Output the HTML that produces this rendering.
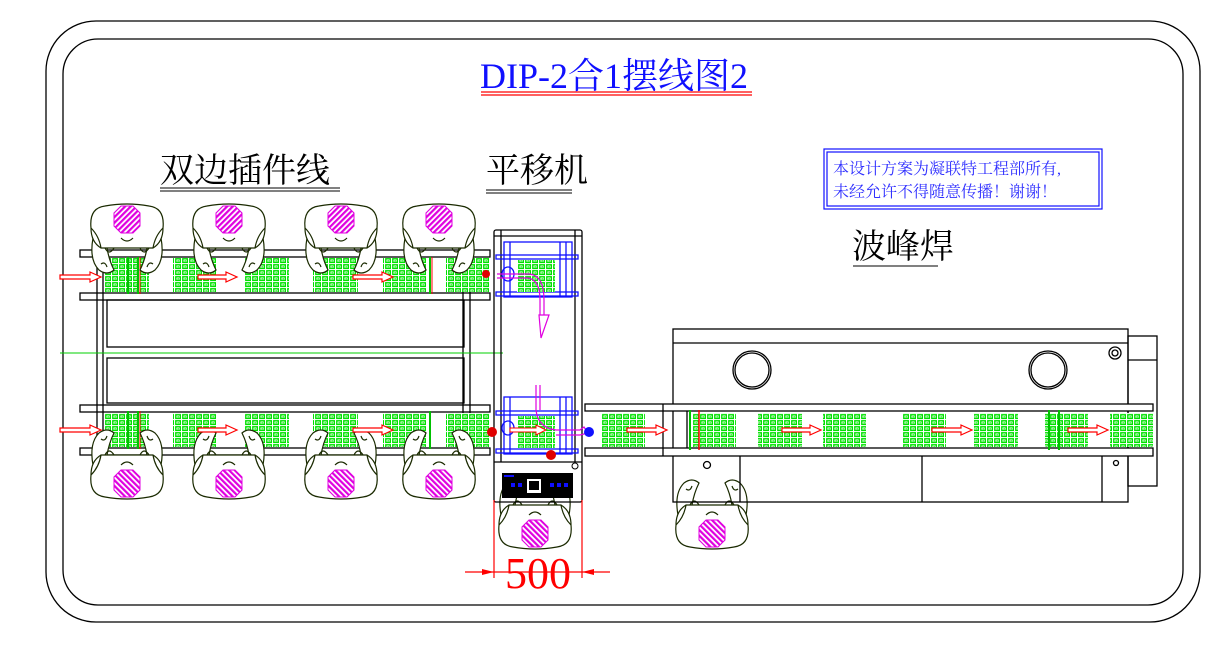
<!DOCTYPE html>
<html><head><meta charset="utf-8"><style>
html,body{margin:0;padding:0;background:#fff;}
svg{display:block;}
text{font-family:"Liberation Serif","Noto Serif CJK SC","Noto Sans CJK SC",serif;}
</style></head><body>
<svg width="1230" height="660" viewBox="0 0 1230 660" xmlns="http://www.w3.org/2000/svg">
<defs>
<pattern id="gp" width="7" height="6" patternUnits="userSpaceOnUse">
<rect width="7" height="6" fill="#fff"/>
<rect x="0.8" y="0.8" width="4.5" height="3.6" fill="none" stroke="#00e000" stroke-width="1.4"/>
<rect x="2.5" y="2.2" width="1.3" height="1.2" fill="#00e000"/>
</pattern>
<pattern id="mp" width="4" height="4" patternUnits="userSpaceOnUse" patternTransform="rotate(45)">
<rect width="4" height="4" fill="#fff"/>
<rect width="2.2" height="4" fill="#e000e0"/>
</pattern>
<g id="person" fill="none" stroke="#1a2a00" stroke-width="1.2">
<path d="M-34,18 Q-38,40 -28,50 Q-20,56 -13,50 Q-18,40 -20,28" fill="#fff"/>
<path d="M34,18 Q38,40 28,50 Q20,56 13,50 Q18,40 20,28" fill="#fff"/>
<path d="M-36,8 Q-38,-12 -22,-14 Q0,-18 22,-14 Q38,-12 36,8 Q36,22 26,28 L-26,28 Q-36,22 -36,8Z" fill="#fff"/>
<path d="M-22,28 q4,8 9,0 M13,28 q4,8 9,0 M-6,18 q6,6 12,0 M-36,8 Q-28,16 -26,28 M36,8 Q28,16 26,28"/>
<path d="M-26,44 q4,-3 6,3 M26,44 q-4,-3 -6,3"/>
<polygon points="-6,-14 6,-14 13,-7 13,6 6,13 -6,13 -13,6 -13,-7" fill="url(#mp)" stroke="#e000e0" stroke-width="1"/>
</g>
</defs>

<rect x="46" y="21" width="1154" height="601" rx="50" fill="none" stroke="#000" stroke-width="1.3"/>
<rect x="63" y="39" width="1120" height="566" rx="35" fill="none" stroke="#000" stroke-width="1.3"/>

<text x="480" y="88" font-size="36" fill="#1010ff">DIP-2合1摆线图2</text>
<line x1="481" y1="92" x2="752" y2="92" stroke="#f00" stroke-width="1.2"/>
<line x1="481" y1="95" x2="752" y2="95" stroke="#f00" stroke-width="1.2"/>

<text x="160" y="182" font-size="34" fill="#000">双边插件线</text>
<line x1="160" y1="188" x2="340" y2="188" stroke="#000"/><line x1="160" y1="191" x2="340" y2="191" stroke="#000"/>
<text x="486" y="182" font-size="34" fill="#000">平移机</text>
<line x1="486" y1="190" x2="572" y2="190" stroke="#000"/><line x1="486" y1="193" x2="572" y2="193" stroke="#000"/>
<text x="852" y="258" font-size="34" fill="#000">波峰焊</text>
<line x1="853" y1="266" x2="938" y2="266" stroke="#000"/>

<rect x="824" y="149" width="278" height="60" fill="none" stroke="#1010ff" stroke-width="1.2"/>
<rect x="827" y="152" width="272" height="54" fill="none" stroke="#1010ff" stroke-width="1.2"/>
<text x="833" y="174" font-size="16" fill="#3030ff" font-family="Noto Sans CJK SC,sans-serif">本设计方案为凝联特工程部所有,</text>
<text x="833" y="197" font-size="16" fill="#3030ff" font-family="Noto Sans CJK SC,sans-serif">未经允许不得随意传播！谢谢！</text>

<g fill="none" stroke="#000" stroke-width="1.3">
<rect x="80" y="250" width="410" height="7"/>
<rect x="80" y="293" width="410" height="7"/>
<rect x="80" y="405" width="410" height="7"/>
<rect x="80" y="448" width="410" height="7"/>
<rect x="107" y="300" width="357" height="47"/>
<rect x="107" y="358" width="357" height="45"/>
<line x1="97" y1="250" x2="97" y2="455"/><line x1="103" y1="250" x2="103" y2="455"/>
<line x1="463" y1="250" x2="463" y2="455"/><line x1="470" y1="250" x2="470" y2="455"/>
</g>
<line x1="60" y1="353" x2="503" y2="353" stroke="#00d000"/>
<g fill="url(#gp)">
<rect x="104" y="258" width="45" height="34"/><rect x="173" y="258" width="44" height="34"/>
<rect x="245" y="258" width="44" height="34"/><rect x="313" y="258" width="45" height="34"/>
<rect x="383" y="258" width="43" height="34"/><rect x="446" y="258" width="44" height="34"/>
<rect x="104" y="413" width="45" height="34"/><rect x="173" y="413" width="44" height="34"/>
<rect x="245" y="413" width="44" height="34"/><rect x="313" y="413" width="45" height="34"/>
<rect x="383" y="413" width="43" height="34"/><rect x="446" y="413" width="44" height="34"/>
</g>
<g stroke="#00c000" stroke-width="2">
<line x1="128" y1="257" x2="128" y2="294"/><line x1="138" y1="257" x2="138" y2="294"/>
<line x1="128" y1="411" x2="128" y2="449"/><line x1="138" y1="411" x2="138" y2="449"/>
<line x1="430" y1="257" x2="430" y2="294"/><line x1="430" y1="411" x2="430" y2="449"/>
</g>
<g stroke="#f00" stroke-width="1"><line x1="140" y1="257" x2="140" y2="294"/><line x1="140" y1="411" x2="140" y2="449"/><line x1="432" y1="257" x2="432" y2="294"/></g>

<use href="#person" x="127" y="220"/><use href="#person" x="229" y="220"/>
<use href="#person" x="341" y="220"/><use href="#person" x="439" y="220"/>
<g transform="translate(0,703) scale(1,-1)">
<use href="#person" x="127" y="220"/><use href="#person" x="229" y="220"/>
<use href="#person" x="341" y="220"/><use href="#person" x="439" y="220"/>
</g>
<g transform="translate(0,1066) scale(1,-1)"><use href="#person" x="535" y="533"/><use href="#person" x="712" y="533"/></g>

<g fill="none" stroke="#000" stroke-width="1.3">
<rect x="494" y="230" width="88" height="272" rx="2"/>
<line x1="501" y1="230" x2="501" y2="462"/><line x1="575" y1="230" x2="575" y2="462"/>
<line x1="494" y1="236" x2="582" y2="236"/>
<line x1="494" y1="462" x2="582" y2="462"/>
</g>
<g fill="none" stroke="#1010ff" stroke-width="1.3">
<rect x="504" y="242" width="68" height="55"/><rect x="496" y="255" width="82" height="4"/><rect x="496" y="292" width="82" height="4"/>
<line x1="510" y1="242" x2="510" y2="297"/><line x1="560" y1="242" x2="560" y2="297"/><line x1="566" y1="242" x2="566" y2="297"/>
<rect x="504" y="397" width="68" height="57"/><rect x="496" y="411" width="82" height="4"/><rect x="496" y="449" width="82" height="4"/>
<line x1="510" y1="397" x2="510" y2="454"/><line x1="560" y1="397" x2="560" y2="454"/><line x1="566" y1="397" x2="566" y2="454"/>
<ellipse cx="508" cy="274" rx="6" ry="7"/><ellipse cx="508" cy="428" rx="6" ry="7"/>
</g>
<rect x="517" y="260" width="38" height="32" fill="url(#gp)"/>
<rect x="517" y="416" width="38" height="32" fill="url(#gp)"/>
<g fill="none" stroke="#e000e0" stroke-width="1.2">
<path d="M497,274 H530 Q544,276 544,300 V315 H539 L541,338 L549,315 H544"/>
<path d="M497,278 H528 Q540,280 540,300 V315"/>
<path d="M536,385 V410 Q538,428 556,430 H580 L584,427 L588,433 L580,435 H556"/>
<path d="M540,385 V410"/>
</g>
<path d="M510,428 h26 v-3 l10,5 l-10,5 v-3 h-26z" fill="#fff" stroke="#f00"/>
<circle cx="486" cy="274" r="4" fill="#e00000"/>
<circle cx="492" cy="432" r="5" fill="#e00000"/>
<circle cx="551" cy="455" r="5" fill="#e00000"/>
<circle cx="589" cy="432" r="5" fill="#1010ff"/>
<circle cx="575" cy="466" r="3" fill="none" stroke="#000"/>
<rect x="502" y="473" width="71" height="25" fill="#000"/>
<rect x="527" y="479" width="14" height="14" fill="#fff"/><rect x="529" y="481" width="10" height="9" fill="#000"/>
<g fill="#1010ff"><rect x="511" y="483" width="4" height="4"/><rect x="518" y="483" width="4" height="4"/><rect x="550" y="483" width="4" height="4"/><rect x="557" y="483" width="4" height="4"/><rect x="564" y="483" width="4" height="4"/><rect x="504" y="475" width="10" height="2"/></g>

<g stroke="#f00" stroke-width="1.2">
<line x1="494" y1="500" x2="494" y2="578"/><line x1="582" y1="500" x2="582" y2="578"/>
<line x1="465" y1="572" x2="610" y2="572"/>
</g>
<polygon points="494,572 482,569 482,575" fill="#f00"/><polygon points="582,572 594,569 594,575" fill="#f00"/>
<text x="538" y="588" font-size="44" fill="#f00" text-anchor="middle">500</text>

<g fill="none" stroke="#000" stroke-width="1.3">
<rect x="673" y="329" width="455" height="173"/>
<line x1="673" y1="343" x2="1128" y2="343"/>
<circle cx="752" cy="370" r="19"/><circle cx="752" cy="370" r="17"/>
<circle cx="1048" cy="370" r="19"/><circle cx="1048" cy="370" r="17"/>
<circle cx="1115" cy="353" r="6"/><circle cx="1115" cy="353" r="3"/>
<rect x="1128" y="336" width="29" height="150"/><line x1="1128" y1="360" x2="1157" y2="360"/>
<rect x="585" y="404" width="568" height="7" fill="#fff"/>
<rect x="585" y="448" width="568" height="8" fill="#fff"/>
<line x1="663" y1="404" x2="663" y2="456"/>
<line x1="687" y1="411" x2="687" y2="448"/>
<line x1="740" y1="456" x2="740" y2="502"/><line x1="922" y1="456" x2="922" y2="502"/><line x1="1102" y1="456" x2="1102" y2="502"/>
<circle cx="707" cy="465" r="3.5"/><circle cx="1116" cy="463" r="2.5"/>
</g>
<g fill="url(#gp)">
<rect x="601" y="413" width="44" height="34"/>
<rect x="692" y="413" width="44" height="34"/><rect x="758" y="413" width="44" height="34"/>
<rect x="823" y="413" width="43" height="34"/><rect x="902" y="413" width="44" height="34"/>
<rect x="974" y="413" width="44" height="34"/><rect x="1045" y="413" width="43" height="34"/>
<rect x="1110" y="413" width="43" height="34"/>
</g>
<g stroke="#00c000" stroke-width="2"><line x1="1049" y1="410" x2="1049" y2="450"/><line x1="1059" y1="410" x2="1059" y2="450"/><line x1="690" y1="410" x2="690" y2="450"/></g>
<line x1="699" y1="410" x2="699" y2="450" stroke="#f00" stroke-width="1.5"/>

<g fill="#fff" stroke="#f00" stroke-width="1.2">
<path d="M60,275 h30 v-3 l11,5 l-11,5 v-3 h-30z"/>
<path d="M198,275 h28 v-3 l11,5 l-11,5 v-3 h-28z"/>
<path d="M353,275 h29 v-3 l11,5 l-11,5 v-3 h-29z"/>
<path d="M60,428 h30 v-3 l11,5 l-11,5 v-3 h-30z"/>
<path d="M198,428 h28 v-3 l11,5 l-11,5 v-3 h-28z"/>
<path d="M353,428 h29 v-3 l11,5 l-11,5 v-3 h-29z"/>
<path d="M627,428 h29 v-3 l11,5 l-11,5 v-3 h-29z"/>
<path d="M782,428 h28 v-3 l11,5 l-11,5 v-3 h-28z"/>
<path d="M932,428 h29 v-3 l11,5 l-11,5 v-3 h-29z"/>
<path d="M1068,428 h29 v-3 l11,5 l-11,5 v-3 h-29z"/>
</g>
</svg>
</body></html>
